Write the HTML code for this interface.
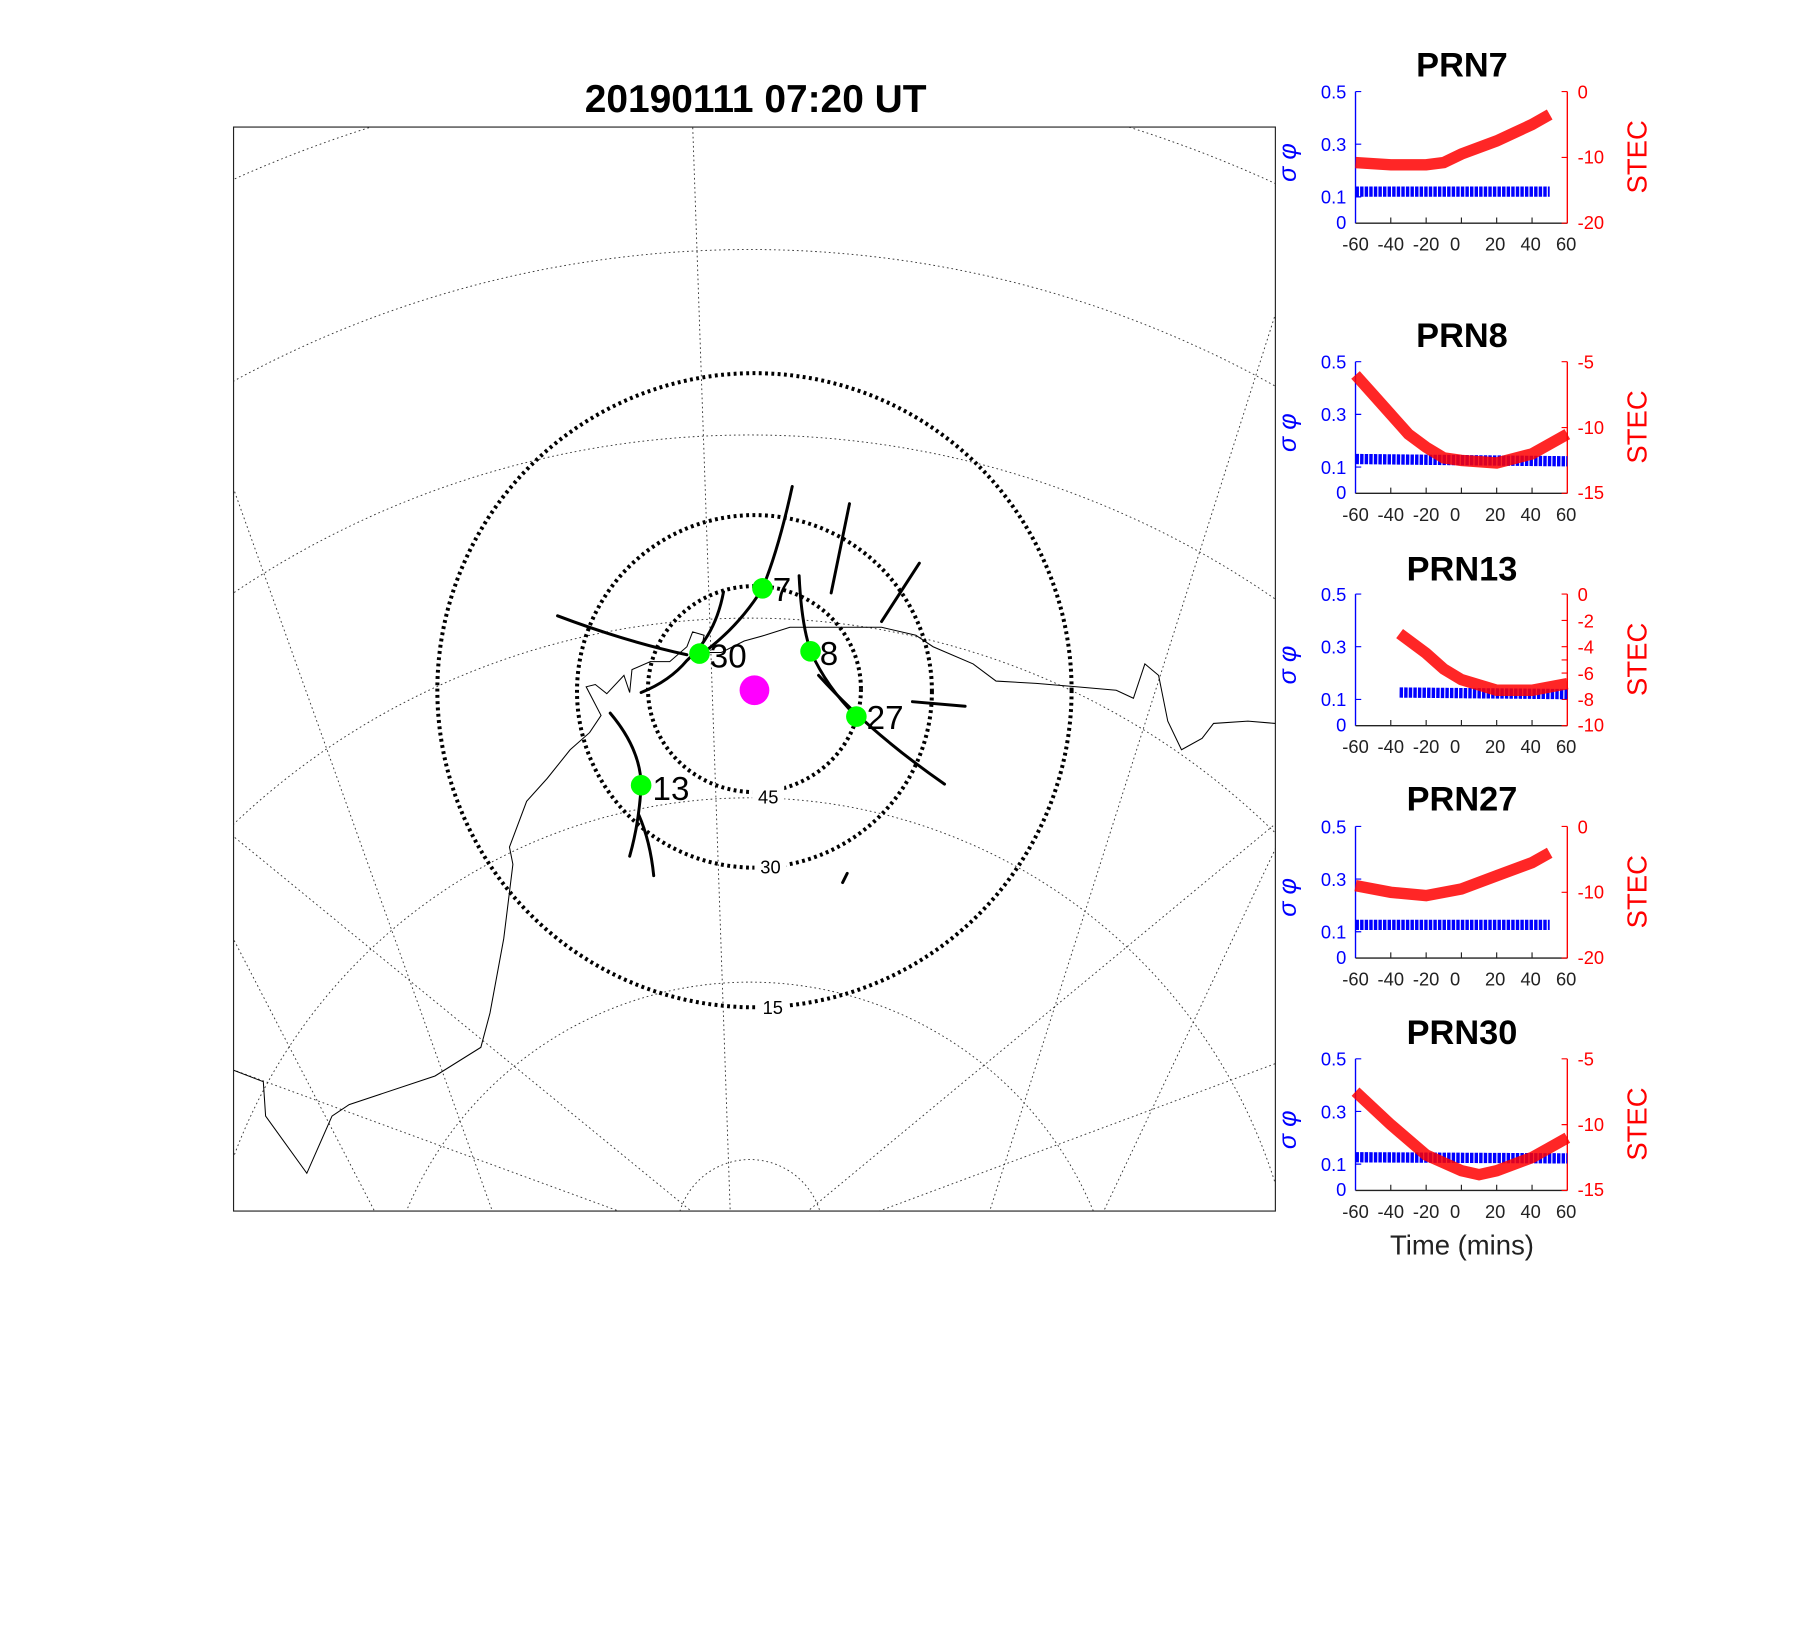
<!DOCTYPE html>
<html><head><meta charset="utf-8"><style>
html,body{margin:0;padding:0;background:#fff;overflow:hidden;width:1794px;height:1630px;}
svg{display:block;}
text{font-family:"Liberation Sans",Arial,sans-serif;}
</style></head><body>
<svg width="1794" height="1630" viewBox="0 0 1567 1424" preserveAspectRatio="none" xmlns="http://www.w3.org/2000/svg">
<defs>
<clipPath id="mc"><rect x="204" y="111" width="910" height="947"/></clipPath>
<g id="ax">
<line x1="0" y1="0" x2="0" y2="115" stroke="#00f" stroke-width="1.2"/>
<line x1="185" y1="0" x2="185" y2="115" stroke="#f00" stroke-width="1.2"/>
<line x1="0" y1="115" x2="185" y2="115" stroke="#222" stroke-width="1.2"/>
<path d="M0 0h5M0 46h5M0 92h5" stroke="#00f"/>
<path d="M185 0h-5M185 57.5h-5M185 115h-5" stroke="#f00"/>
<path d="M30.8 115v-5M61.7 115v-5M92.5 115v-5M123.3 115v-5M154.2 115v-5" stroke="#222"/>
<g font-size="16" fill="#00f" text-anchor="end">
<text x="-8" y="6">0.5</text><text x="-8" y="52">0.3</text><text x="-8" y="98">0.1</text><text x="-8" y="120">0</text></g>
<g font-size="16" fill="#222" text-anchor="middle">
<text x="0" y="139">-60</text><text x="30.8" y="139">-40</text><text x="61.7" y="139">-20</text><text x="87" y="139">0</text><text x="122" y="139">20</text><text x="153" y="139">40</text><text x="184" y="139">60</text></g>
<text transform="translate(-52,62) rotate(-90)" font-size="22" fill="#00f" font-style="italic" font-family="Liberation Serif,serif" text-anchor="middle">σ  φ</text>
<text transform="translate(254,57) rotate(-90)" font-size="24" fill="#f00" text-anchor="middle">STEC</text>
</g>
</defs>
<rect width="1567" height="1424" fill="#fff"/>
<text x="660" y="98" font-size="34" font-weight="bold" text-anchor="middle">20190111 07:20 UT</text>
<g clip-path="url(#mc)">
<g fill="none" stroke="#333" stroke-width="0.8" stroke-dasharray="1.5,2.5">
<circle cx="655" cy="1077" r="64"/>
<circle cx="655" cy="1183" r="325"/>
<circle cx="655" cy="1178" r="481"/>
<circle cx="655" cy="1195" r="655"/>
<circle cx="655" cy="1186" r="806"/>
<circle cx="655" cy="1160" r="942"/>
<circle cx="655" cy="1160" r="1100"/>
<path d="M660 1700L604 80M660 1700L180 360M660 1700L1160 130M660 1700L100 620M660 1700L1200 560M660 1700L60 1000M660 1700L1230 900M660 1700L0 1400"/>
<path d="M655 1100L-200 400M655 1100L1500 400M655 1100L0 860M655 1100L1300 860"/>
</g>
<polyline fill="none" stroke="#000" stroke-width="0.9" points="204,935 230,945 232,975 268,1025 290,975 305,965 380,940 420,915 428,885 440,820 448,755 445,740 460,700 478,680 498,655 515,640 525,625 512,600 520,598 530,606 545,590 550,605 552,585 568,578 585,578 600,565 605,552 615,555 612,570 630,570 650,560 668,555 690,548 720,548 770,548 800,555 815,565 850,580 870,595 905,597 940,600 975,603 990,610 1000,580 1012,590 1020,630 1032,655 1050,645 1060,632 1090,630 1114,632"/>
</g>
<rect x="204" y="111" width="910" height="947" fill="none" stroke="#222" stroke-width="1"/>
<g fill="none" stroke="#000" stroke-width="3.5" stroke-dasharray="2.5,3">
<ellipse cx="659" cy="602" rx="93" ry="90"/>
<ellipse cx="659" cy="604" rx="155" ry="154"/>
<ellipse cx="659" cy="603" rx="277" ry="277"/>
</g>
<g font-size="16" text-anchor="middle"><rect x="657" y="686" width="28" height="18" fill="#fff"/><text x="671" y="702">45</text>
<rect x="659" y="747" width="28" height="18" fill="#fff"/><text x="673" y="763">30</text>
<rect x="661" y="870" width="28" height="18" fill="#fff"/><text x="675" y="886">15</text></g>
<g fill="none" stroke="#000" stroke-width="2.6" stroke-linecap="round">
<path d="M692 425Q680 480 666 514Q645 548 612 572"/>
<path d="M632 517Q625 555 600 577Q585 595 560 605"/>
<path d="M487 538Q545 560 600 572"/>
<path d="M698 503Q700 545 708 569Q722 600 748 626"/>
<path d="M715 590Q760 640 825 685"/>
<path d="M797 613L843 617"/>
<path d="M742 440L726 518"/>
<path d="M803 492L770 543"/>
<path d="M533 623Q560 655 560 687Q558 720 550 748"/>
<path d="M558 712Q568 735 571 765"/>
<path d="M740 763L736 771"/>
</g>
<circle cx="659" cy="603" r="13" fill="#f0f"/>
<g fill="#0f0"><circle cx="666" cy="514" r="9"/><circle cx="611" cy="571" r="9"/><circle cx="708" cy="569" r="9"/><circle cx="748" cy="626" r="9"/><circle cx="560" cy="686" r="9"/></g>
<g font-size="29"><text x="675" y="525">7</text><text x="620" y="583">30</text><text x="716" y="581">8</text><text x="757" y="637">27</text><text x="570" y="699">13</text></g>

<g font-size="30" font-weight="bold" text-anchor="middle"><text x="1277" y="67">PRN7</text><text x="1277" y="303">PRN8</text><text x="1277" y="507">PRN13</text><text x="1277" y="708">PRN27</text><text x="1277" y="912">PRN30</text></g>

<g transform="translate(1184,80)"><use href="#ax"/>
<g font-size="16" fill="#f00"><text x="194" y="6">0</text><text x="194" y="63">-10</text><text x="194" y="120">-20</text></g>
<polyline fill="none" stroke="#f00" stroke-width="10" points="0,62 30.8,64 61.7,64 77.1,62 92.5,54.6 123.3,43.1 154.2,28.75 169.6,20" opacity="0.85"/>
<line x1="0" y1="87.4" x2="169.6" y2="87.4" stroke="#00f" stroke-width="9" stroke-dasharray="3,1"/>
</g>
<g transform="translate(1184,316)"><use href="#ax"/>
<g font-size="16" fill="#f00"><text x="194" y="6">-5</text><text x="194" y="63">-10</text><text x="194" y="120">-15</text></g>
<line x1="0" y1="85" x2="185" y2="87" stroke="#00f" stroke-width="9" stroke-dasharray="3,1"/>
<polyline fill="none" stroke="#f00" stroke-width="10" opacity="0.85" points="0,11.5 15.4,28.75 30.8,46 46.2,63.25 61.7,74.75 77.1,84 92.5,86.25 123.3,88.5 154.2,80.5 185,63.25"/>
</g>
<g transform="translate(1184,519)"><use href="#ax"/>
<g font-size="16" fill="#f00"><text x="194" y="6">0</text><text x="194" y="29">-2</text><text x="194" y="52">-4</text><text x="194" y="75">-6</text><text x="194" y="98">-8</text><text x="194" y="120">-10</text></g>
<path d="M185 23h-5M185 46h-5M185 69h-5M185 92h-5" stroke="#f00"/>
<line x1="38.5" y1="86" x2="185" y2="87.4" stroke="#00f" stroke-width="9" stroke-dasharray="3,1"/>
<polyline fill="none" stroke="#f00" stroke-width="10" opacity="0.85" points="38.5,34.5 61.7,51.75 77.1,65.5 92.5,74.75 123.3,84 154.2,84 185,78.2"/>
</g>
<g transform="translate(1184,722)"><use href="#ax"/>
<g font-size="16" fill="#f00"><text x="194" y="6">0</text><text x="194" y="63">-10</text><text x="194" y="120">-20</text></g>
<line x1="0" y1="86" x2="169.6" y2="86" stroke="#00f" stroke-width="9" stroke-dasharray="3,1"/>
<polyline fill="none" stroke="#f00" stroke-width="10" opacity="0.85" points="0,51.75 30.8,57.5 61.7,60.4 92.5,54.6 123.3,43.1 154.2,31.6 169.6,23"/>
</g>
<g transform="translate(1184,925)"><use href="#ax"/>
<g font-size="16" fill="#f00"><text x="194" y="6">-5</text><text x="194" y="63">-10</text><text x="194" y="120">-15</text></g>
<line x1="0" y1="86" x2="185" y2="87" stroke="#00f" stroke-width="9" stroke-dasharray="3,1"/>
<polyline fill="none" stroke="#f00" stroke-width="10" opacity="0.85" points="0,28.75 30.8,57.5 61.7,84 92.5,97.75 107.9,101.2 123.3,97.75 154.2,86.25 185,69"/>
</g>
<text x="1277" y="1096" font-size="24" fill="#222" text-anchor="middle">Time (mins)</text>
</svg>
</body></html>
